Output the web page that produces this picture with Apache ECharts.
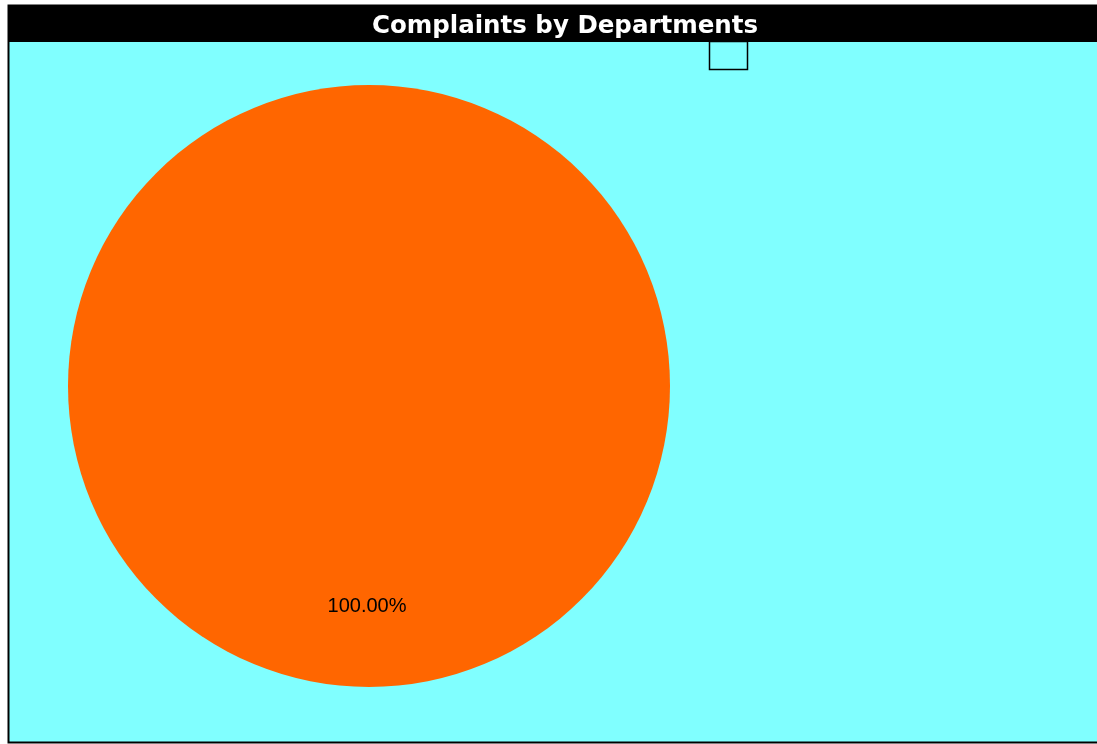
<!DOCTYPE html>
<html>
<head>
<meta charset="utf-8">
<style>
  html, body { margin: 0; padding: 0; background: #ffffff; }
  #chart { width: 1097px; height: 744px; }
</style>
<script src="https://cdn.jsdelivr.net/npm/echarts@6/dist/echarts.min.js"></script>
</head>
<body>
<div id="chart"></div>
<script>
// Complaints per department
const departments = [''];
const complaints = [1];
const sliceColors = ['#ff6600'];

const chart = echarts.init(document.getElementById('chart'), null, { renderer: 'canvas' });

const total = complaints.reduce((a, b) => a + b, 0);

chart.setOption({
  animation: false,
  backgroundColor: '#ffffff',
  graphic: [
    // panel frame with cyan fill
    {
      type: 'rect', z: -10, silent: true,
      shape: { x: 8.5, y: 5.5, width: 1100, height: 737 },
      style: { fill: '#80ffff', stroke: '#000000', lineWidth: 2 }
    },
    // title bar
    {
      type: 'rect', z: -9, silent: true,
      shape: { x: 9, y: 6, width: 1090, height: 36 },
      style: { fill: '#000000' }
    },
    // legend box
    {
      type: 'rect', z: 5, silent: true,
      shape: { x: 709.5, y: 41.5, width: 38, height: 28 },
      style: { fill: 'none', stroke: '#000000', lineWidth: 1.5 }
    }
  ],
  title: {
    text: 'Complaints by Departments',
    left: 560,
    top: 9,
    textAlign: 'center',
    textStyle: {
      color: '#ffffff',
      fontFamily: 'DejaVu Sans',
      fontWeight: 'bold',
      fontSize: 24.5
    }
  },
  series: [{
    type: 'pie',
    center: [369, 386],
    radius: [0, 301],
    startAngle: 90,
    clockwise: true,
    avoidLabelOverlap: false,
    label: {
      show: true,
      position: 'inside',
      offset: [-2, 67],
      color: '#000000',
      fontFamily: 'Liberation Sans',
      fontSize: 20,
      formatter: p => (p.value / total * 100).toFixed(2) + '%'
    },
    labelLine: { show: false },
    itemStyle: { borderWidth: 0 },
    emphasis: { disabled: true },
    data: departments.map((d, i) => ({
      name: d,
      value: complaints[i],
      itemStyle: { color: sliceColors[i] }
    }))
  }]
});
</script>
</body>
</html>
